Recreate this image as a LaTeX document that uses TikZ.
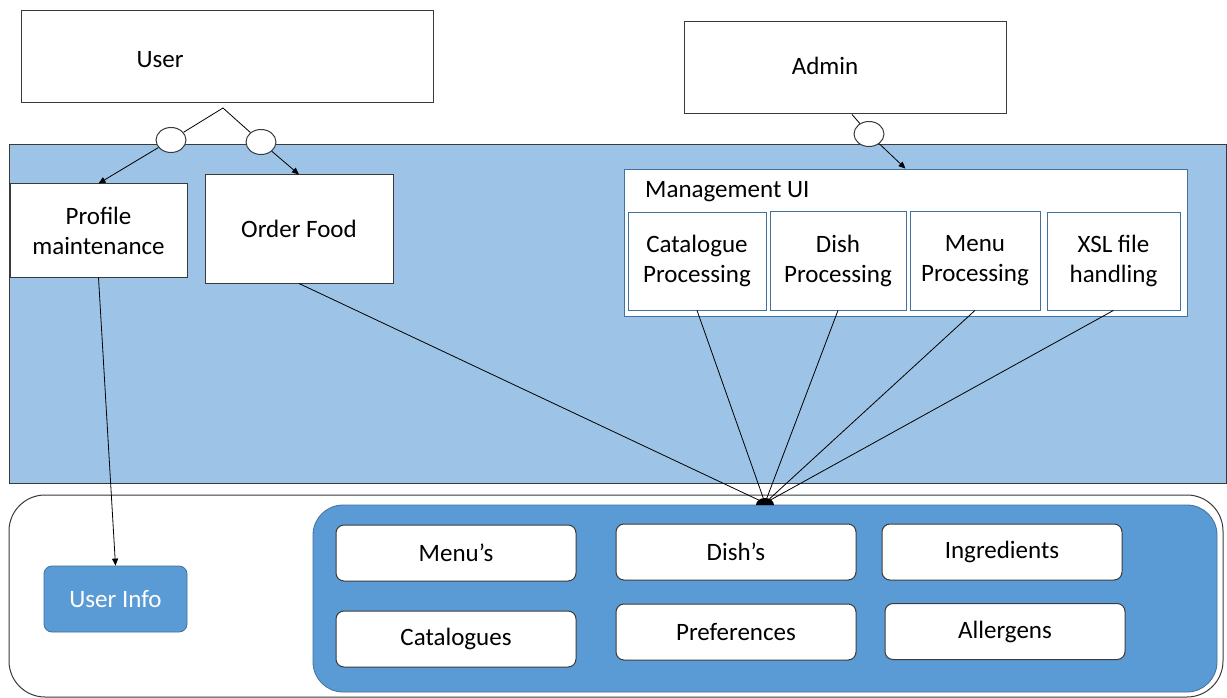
\documentclass[tikz,border=0pt]{standalone}
\usepackage{fontspec}
\setmainfont{Carlito}
\usetikzlibrary{arrows.meta,shapes.geometric}
\definecolor{bandblue}{HTML}{9DC3E6}
\definecolor{midblue}{HTML}{5B9BD5}
\definecolor{edgeblue}{HTML}{41719C}
\definecolor{boxline}{HTML}{3A3A3A}
\tikzset{
  txt/.style={font=\fontsize{25}{30}\selectfont, align=center, inner sep=0pt},
  plainbox/.style={txt, draw=boxline, line width=1pt, fill=white},
  procbox/.style={txt, draw=edgeblue, line width=0.8pt, fill=white},
  databox/.style={txt, draw=boxline, line width=1pt, fill=white, rounded corners=8pt, minimum width=240pt, minimum height=56pt},
  joint/.style={draw=boxline, line width=1pt, fill=white, ellipse, minimum width=30pt, minimum height=25pt, inner sep=0pt},
  conn/.style={draw=black, line width=0.8pt},
  arr/.style={conn, -{Triangle[length=7pt,width=6pt]}}
}
\begin{document}
\begin{tikzpicture}[x=1pt,y=-1pt]
\useasboundingbox (0,0) rectangle (1227,698);
% band
\fill[bandblue, draw=boxline, line width=1pt] (9,145) rectangle (1226,483);
% lower container
\draw[boxline, line width=1pt, rounded corners=36pt, fill=white] (9,495) rectangle (1223,697);
\fill[midblue, draw=edgeblue, line width=0.8pt, rounded corners=30pt] (313,505) rectangle (1217,692);

% top actors
\node[plainbox, minimum width=412pt, minimum height=92pt] (user) at (227,57) {};
\node[txt] (userl) at (160,60) {User};
\node[plainbox, minimum width=322pt, minimum height=92pt] (admin) at (845,68) {};
\node[txt] (adminl) at (825,66) {Admin};

% UI boxes
\node[plainbox, minimum width=177pt, minimum height=93pt] (pm) at (98.5,230.5) {Profile\\maintenance};
\node[plainbox, minimum width=188pt, minimum height=108pt] (of) at (299,229) {Order Food};
\node[procbox, minimum width=563pt, minimum height=147pt] (mui) at (905.5,242.5) {};
\node[txt, anchor=west] (muil) at (645,192) {Management UI};
\node[procbox, minimum width=138pt, minimum height=98pt] (cp) at (697,261) {Catalogue\\Processing};
\node[procbox, minimum width=136pt, minimum height=99pt] (dp) at (838,260.5) {Dish\\Processing};
\node[procbox, minimum width=130pt, minimum height=99pt] (mp) at (975,260.5) {Menu\\Processing};
\node[procbox, minimum width=133pt, minimum height=98pt] (xp) at (1113.5,261) {XSL file\\handling};

% joints
\coordinate (apex) at (223,108);
\node[joint] (c1) at (171,140) {};
\node[joint] (c2) at (261,142) {};
\node[joint] (c3) at (869,134) {};
\draw[conn] (apex) -- (c1);
\draw[conn] (apex) -- (c2);
\draw[arr] (c1) -- (pm.north);
\draw[arr] (c2) -- (of.north);
\draw[conn] ([xshift=7pt]admin.south) -- (c3);
\draw[arr] (c3) -- (mui.north);

% data boxes
\node[databox] (menus) at (456,553) {Menu’s};
\node[databox] (dishs) at (736,552) {Dish’s};
\node[databox] (ingr) at (1002,552) {Ingredients};
\node[databox] (cats) at (456,639) {Catalogues};
\node[databox] (prefs) at (736,632) {Preferences};
\node[databox] (allg) at (1005,631.5) {Allergens};

\node[txt, text=white, fill=midblue, draw=edgeblue, line width=0.8pt, rounded corners=8pt, minimum width=143pt, minimum height=66pt] (ui) at (115.5,599) {User Info};

% hub
\coordinate (hub) at (765,503);
\draw[conn] (of.south) -- (hub);
\draw[conn] (cp.south) -- (hub);
\draw[conn] (dp.south) -- (hub);
\draw[conn] (mp.south) -- (hub);
\draw[conn] (xp.south) -- (hub);
\fill[black] (756,505) arc (180:360:9 and 7) -- cycle;
\draw[arr] (pm.south) -- (ui.north);
\end{tikzpicture}
\end{document}
